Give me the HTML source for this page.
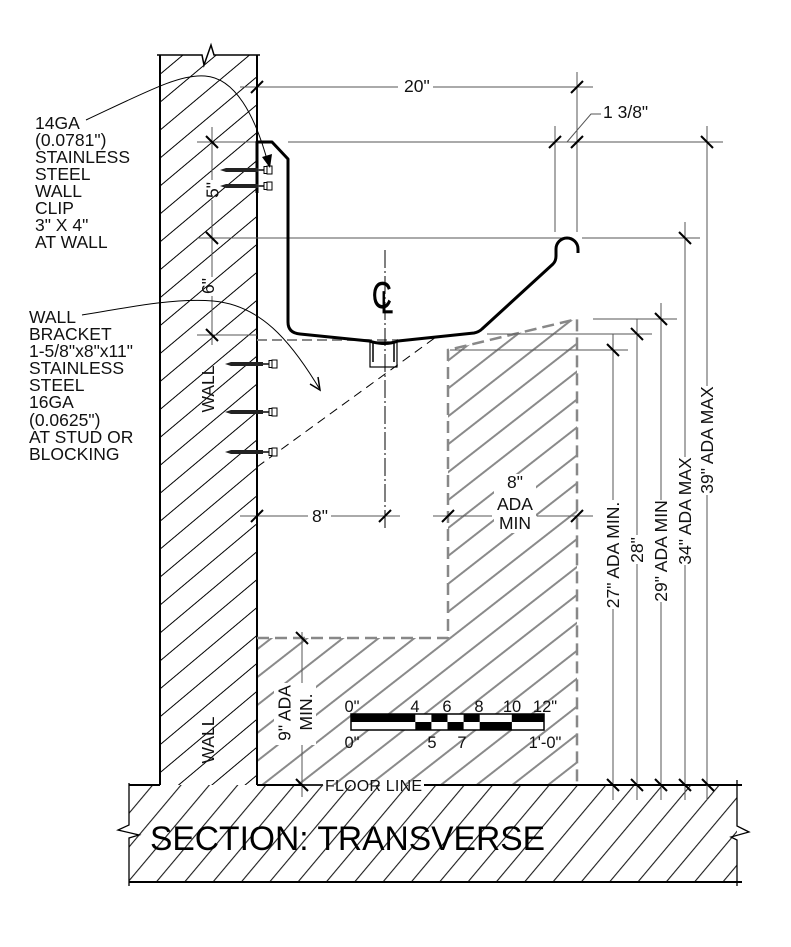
<!DOCTYPE html>
<html><head><meta charset="utf-8"><style>html,body{margin:0;padding:0;background:#fff}svg{display:block}</style></head>
<body>
<svg width="791" height="947" viewBox="0 0 791 947" xmlns="http://www.w3.org/2000/svg" font-family="'Liberation Sans', Arial, sans-serif">
<defs>
<pattern id="hw" patternUnits="userSpaceOnUse" width="40" height="21.4" patternTransform="rotate(-40)">
<line x1="-2" y1="10" x2="42" y2="10" stroke="#000" stroke-width="1"/></pattern>
<pattern id="hf" patternUnits="userSpaceOnUse" width="40" height="21.7" patternTransform="rotate(-50) translate(0,4)">
<line x1="-2" y1="10" x2="42" y2="10" stroke="#000" stroke-width="1"/></pattern>
<pattern id="hg" patternUnits="userSpaceOnUse" width="40" height="22" patternTransform="rotate(-38)">
<line x1="-2" y1="10" x2="42" y2="10" stroke="#8a8a8a" stroke-width="2"/></pattern>
</defs>
<rect width="791" height="947" fill="#fff"/>

<!-- hatches -->
<rect x="160" y="55" width="97" height="730" fill="url(#hw)"/>
<rect x="129" y="785" width="608" height="97" fill="url(#hf)"/>
<polygon points="448,350 577,319 577,785 257,785 257,638 448,638" fill="url(#hg)"/>

<!-- white text backgrounds -->
<rect x="494" y="474" width="42" height="59" fill="#fff"/>
<rect x="274" y="683" width="42" height="62" fill="#fff"/>

<!-- wall -->
<g stroke="#000" fill="none">
<line x1="160" y1="55" x2="160" y2="785" stroke-width="2"/>
<line x1="257" y1="55" x2="257" y2="785" stroke-width="2"/>
<polyline points="157,55 202,55 204,65 211,45 214,55 260,55" stroke-width="1.5"/>
<!-- floor -->
<line x1="129" y1="785" x2="160" y2="785" stroke-width="2"/>
<line x1="257" y1="785" x2="323" y2="785" stroke-width="2"/>
<line x1="424" y1="785" x2="742" y2="785" stroke-width="2"/>
<line x1="129" y1="882" x2="742" y2="882" stroke-width="2"/>
<polyline points="129,783 129,825 118,830 139,835 129,838 129,886" stroke-width="1.3"/>
<polyline points="737,780 737,826 749,832 731,837 737,840 737,886" stroke-width="1.3"/>
</g>

<!-- knee clearance outline -->
<polyline points="257,638 448,638 448,350 577,319 577,785" fill="none" stroke="#888" stroke-width="2.5" stroke-dasharray="12 6"/>
<line x1="257" y1="340" x2="398" y2="340" stroke="#888" stroke-width="2" stroke-dasharray="10 5"/>

<!-- bracket dashed line -->
<line x1="257" y1="467" x2="436" y2="337" stroke="#000" stroke-width="1" stroke-dasharray="9 6"/>

<!-- dimension lines -->
<g stroke="#555" stroke-width="1" fill="none">
<line x1="240" y1="87" x2="398" y2="87"/><line x1="433" y1="87" x2="593" y2="87"/>
<line x1="577" y1="72" x2="577" y2="232"/>
<line x1="555" y1="126" x2="555" y2="232"/>
<line x1="197" y1="142" x2="257" y2="142"/><line x1="288" y1="142" x2="723" y2="142"/>
<polyline points="567,142 591,114 601,114"/>
<line x1="197" y1="238" x2="565" y2="238"/><line x1="582" y1="238" x2="700" y2="238"/>
<line x1="212" y1="127" x2="212" y2="180"/><line x1="212" y1="200" x2="212" y2="277"/><line x1="212" y1="296" x2="212" y2="345"/>
<line x1="197" y1="335" x2="257" y2="335"/>
<line x1="613" y1="334" x2="613" y2="500"/><line x1="613" y1="609" x2="613" y2="800"/>
<line x1="637" y1="319" x2="637" y2="535"/><line x1="637" y1="564" x2="637" y2="800"/>
<line x1="661" y1="303" x2="661" y2="500"/><line x1="661" y1="602" x2="661" y2="800"/>
<line x1="685" y1="222" x2="685" y2="457"/><line x1="685" y1="565" x2="685" y2="800"/>
<line x1="707" y1="126" x2="707" y2="386"/><line x1="707" y1="495" x2="707" y2="800"/>
<line x1="450" y1="350" x2="628" y2="350"/>
<line x1="487" y1="334" x2="652" y2="334"/>
<line x1="593" y1="319" x2="677" y2="319"/>
<line x1="240" y1="516" x2="308" y2="516"/><line x1="331" y1="516" x2="400" y2="516"/>
<line x1="433" y1="516" x2="492" y2="516"/><line x1="537" y1="516" x2="593" y2="516"/>
<line x1="302" y1="632" x2="302" y2="683"/><line x1="302" y1="745" x2="302" y2="797"/>
<line x1="302" y1="785" x2="323" y2="785"/>
</g>

<!-- ticks -->
<g stroke="#000" stroke-width="2">
<line x1="251" y1="93" x2="263" y2="81"/>
<line x1="571" y1="93" x2="583" y2="81"/>
<line x1="549" y1="148" x2="561" y2="136"/>
<line x1="571" y1="148" x2="583" y2="136"/>
<line x1="251" y1="522" x2="263" y2="510"/>
<line x1="379" y1="522" x2="391" y2="510"/>
<line x1="442" y1="522" x2="454" y2="510"/>
<line x1="571" y1="522" x2="583" y2="510"/>
<line x1="701" y1="136" x2="713" y2="148"/>
<line x1="679" y1="232" x2="691" y2="244"/>
<line x1="655" y1="313" x2="667" y2="325"/>
<line x1="631" y1="328" x2="643" y2="340"/>
<line x1="607" y1="344" x2="619" y2="356"/>
<line x1="206" y1="136" x2="218" y2="148"/>
<line x1="206" y1="232" x2="218" y2="244"/>
<line x1="206" y1="329" x2="218" y2="341"/>
<line x1="296" y1="632" x2="308" y2="644"/>
<line x1="296" y1="779" x2="308" y2="791"/>
<line x1="607" y1="779" x2="619" y2="791"/>
<line x1="631" y1="779" x2="643" y2="791"/>
<line x1="655" y1="779" x2="667" y2="791"/>
<line x1="679" y1="779" x2="691" y2="791"/>
<line x1="702" y1="779" x2="714" y2="791"/>
</g>

<!-- centerline -->
<line x1="385" y1="250" x2="385" y2="528" stroke="#000" stroke-width="1" stroke-dasharray="18 3 2 3"/>

<!-- drain -->
<g stroke="#000" fill="none">
<rect x="370" y="342" width="27" height="25" stroke-width="1.2"/>
<line x1="373" y1="342" x2="373" y2="362" stroke-width="1.5"/>
<line x1="394" y1="342" x2="394" y2="362" stroke-width="1.5"/>
</g>

<!-- sink profile -->
<path d="M257,193 L257,142 L272,142 L288,159 L288,322 Q288,333 300,334 L369,341 Q385,346 398,341 L474,333 Q479,332 482,329 L553,264 Q556,261 556,256 L556,249 A11,11 0 0 1 578,249 L578,253" fill="none" stroke="#000" stroke-width="3" stroke-linejoin="round"/>

<!-- screws -->
<g id="s1">
<polygon points="220,170 226,168 258,168 258,172 226,172" fill="#222"/>
<line x1="258" y1="170" x2="265" y2="170" stroke="#444" stroke-width="2"/>
<rect x="264" y="166.5" width="3" height="7" fill="#fff" stroke="#000" stroke-width="1"/>
<rect x="267" y="166" width="5" height="8" fill="#fff" stroke="#000" stroke-width="1"/>
</g>
<use href="#s1" transform="translate(0,16)"/>
<use href="#s1" transform="translate(5,194)"/>
<use href="#s1" transform="translate(5,242)"/>
<use href="#s1" transform="translate(5,282)"/>

<!-- leaders -->
<g stroke="#000" stroke-width="1" fill="none">
<path d="M86,120 C150,90 180,74 205,76 C235,78 255,115 268,163"/>
<path d="M82,315 C140,305 180,298 213,301 C260,305 290,340 319,388"/>
<polyline points="310,384 320,390 318,377" stroke-width="1.5"/>
</g>
<polygon points="270,168 262,157 272,154" fill="#000"/>

<!-- CL symbol -->
<text transform="translate(372,308) scale(0.85,1.15)" font-size="32" stroke="#000" stroke-width="0.6">C</text>
<text transform="translate(381,313) scale(0.95,1.35)" font-size="23" stroke="#000" stroke-width="0.5">L</text>

<!-- scale bar -->
<g stroke="none">
<rect x="351" y="714" width="193" height="16" fill="#fff"/>
<rect x="351" y="714" width="64.3" height="8" fill="#000"/>
<rect x="431.4" y="714" width="16.1" height="8" fill="#000"/>
<rect x="463.6" y="714" width="16.1" height="8" fill="#000"/>
<rect x="511.8" y="714" width="32.2" height="8" fill="#000"/>
<rect x="415.3" y="722" width="16.1" height="8" fill="#000"/>
<rect x="447.5" y="722" width="16.1" height="8" fill="#000"/>
<rect x="479.7" y="722" width="32.2" height="8" fill="#000"/>
</g>
<rect x="351" y="714" width="193" height="16" fill="none" stroke="#000" stroke-width="1.5"/>

<!-- text -->
<g font-size="17.5" fill="#111">
<text x="35" y="129">14GA</text>
<text x="35" y="146">(0.0781")</text>
<text x="35" y="163">STAINLESS</text>
<text x="35" y="180">STEEL</text>
<text x="35" y="197">WALL</text>
<text x="35" y="214">CLIP</text>
<text x="35" y="231">3" X 4"</text>
<text x="35" y="248">AT WALL</text>

<text x="29" y="323">WALL</text>
<text x="29" y="340">BRACKET</text>
<text x="29" y="357">1-5/8"x8"x11"</text>
<text x="29" y="374">STAINLESS</text>
<text x="29" y="391">STEEL</text>
<text x="29" y="408">16GA</text>
<text x="29" y="426">(0.0625")</text>
<text x="29" y="443">AT STUD OR</text>
<text x="29" y="460">BLOCKING</text>

<text x="404" y="92">20"</text>
<text x="603" y="118">1 3/8"</text>
<text x="320" y="522" text-anchor="middle">8"</text>
<text x="515" y="488" text-anchor="middle">8"</text>
<text x="515" y="510" text-anchor="middle">ADA</text>
<text x="515" y="529" text-anchor="middle">MIN</text>

<text transform="translate(218.5,190) rotate(-90)" text-anchor="middle">5"</text>
<text transform="translate(214,286) rotate(-90)" text-anchor="middle">6"</text>
<text transform="translate(214,389) rotate(-90)" text-anchor="middle">WALL</text>
<text transform="translate(214,740) rotate(-90)" text-anchor="middle">WALL</text>
<text transform="translate(290.5,713) rotate(-90)" text-anchor="middle">9" ADA</text>
<text transform="translate(312,712) rotate(-90)" text-anchor="middle">MIN.</text>

<text transform="translate(619,555) rotate(-90)" text-anchor="middle">27" ADA MIN.</text>
<text transform="translate(643,550) rotate(-90)" text-anchor="middle">28"</text>
<text transform="translate(667,551) rotate(-90)" text-anchor="middle">29" ADA MIN</text>
<text transform="translate(691,511) rotate(-90)" text-anchor="middle">34" ADA MAX</text>
<text transform="translate(713,440) rotate(-90)" text-anchor="middle">39" ADA MAX</text>
</g>

<g font-size="16" fill="#111">
<text x="325" y="791" textLength="97">FLOOR LINE</text>
</g>

<g font-size="16.5" fill="#111" text-anchor="middle">
<text x="352" y="712">0"</text>
<text x="415" y="712">4</text>
<text x="447" y="712">6</text>
<text x="479" y="712">8</text>
<text x="512" y="712">10</text>
<text x="545" y="712">12"</text>
<text x="352" y="748">0"</text>
<text x="432" y="748">5</text>
<text x="462" y="748">7</text>
<text x="545" y="748">1'-0"</text>
</g>

<text x="150" y="850" font-size="34" textLength="395" lengthAdjust="spacingAndGlyphs" fill="#000">SECTION: TRANSVERSE</text>
</svg>
</body></html>
